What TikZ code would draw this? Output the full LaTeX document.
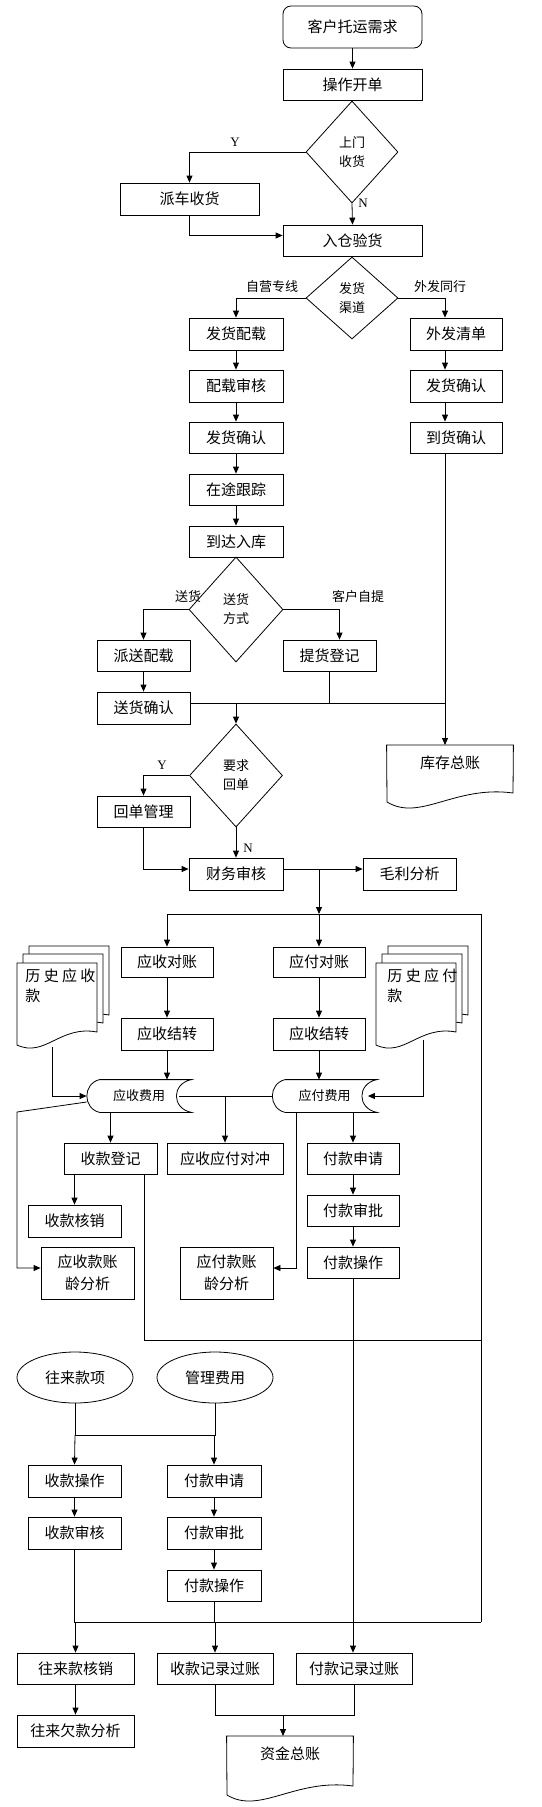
\documentclass[tikz,border=0pt]{standalone}
\usepackage{fontspec}
\newfontfamily\cjkfont{Noto Sans CJK SC}
\newfontfamily\latfont{Liberation Serif}
\usetikzlibrary{calc,arrows.meta,shapes.geometric}
\def\storeshape(#1){\draw ($(#1.north west)+(13,0)$) -- (#1.north east) .. controls +(-20,4) and +(-20,-4) .. (#1.south east) -- ($(#1.south west)+(13,0)$) .. controls +(-17,-4) and +(-17,4) .. ($(#1.north west)+(13,0)$);}
\tikzset{
	proc/.style={draw, rectangle, minimum width=94pt, minimum height=32pt, inner sep=0pt, font=\cjkfont\fontsize{15}{18}\selectfont},
	txt/.style={proc, draw=none},
	dec/.style={draw, diamond, minimum width=92pt, minimum height=102pt, inner sep=0pt, align=center, font=\cjkfont\fontsize{13}{19}\selectfont},
	oval/.style={draw, ellipse, minimum width=116pt, minimum height=51pt, inner sep=0pt, font=\cjkfont\fontsize{15}{18}\selectfont},
	lbl/.style={inner sep=0pt, font=\cjkfont\fontsize{13}{15}\selectfont},
	yn/.style={inner sep=0pt, font=\latfont\fontsize{13}{15}\selectfont},
	arr/.style={-{Triangle[length=7pt,width=6pt]}}
}

\begin{document}
\begin{tikzpicture}[x=1pt, y=-1pt, line width=0.8pt]
			%%%%% START %%%%%
			\useasboundingbox (0,0) rectangle (541,1807);
			
			\node[proc, minimum width=139pt, minimum height=42pt, rounded corners=8pt] (khxq) at (352.5,27) {客户托运需求};
			\node[proc, minimum width=139pt, minimum height=31pt] (czkd) at (352.5,84.5) {操作开单};
			\node[dec] (smsh) at (352,152) {上门\\收货};
			\node[proc, minimum width=139pt] (pcsh) at (189.5,199) {派车收货};
			\node[proc, minimum width=139pt, minimum height=31pt] (rcyh) at (352.5,240.5) {入仓验货};
			\node[yn] (smy) at (235,142) {Y};
			\node[yn] (smn) at (363,203) {N};
			\draw[arr] (khxq) -- (czkd);
			\draw[arr] (smsh.west) -| (pcsh.north);
			\draw[arr] (smsh.south) -- (rcyh.north);
			\draw[arr] (pcsh.south) |- ([yshift=5pt]rcyh.west);
			
			\node[dec, minimum height=82pt] (fhqd) at (352,298) {发货\\渠道};
			\node[proc] (fhpz) at (236,334) {发货配载};
			\node[proc] (pzsh) at (236,386) {配载审核};
			\node[proc, minimum height=31pt] (fhqr) at (236,437.5) {发货确认};
			\node[proc, minimum height=31pt] (ztgz) at (236,489.5) {在途跟踪};
			\node[proc, minimum height=31pt] (ddrk) at (236,541.5) {到达入库};
			\node[proc, minimum width=92pt] (wfqd) at (456,334) {外发清单};
			\node[proc, minimum width=92pt] (wfqr) at (456,386) {发货确认};
			\node[proc, minimum width=92pt, minimum height=31pt] (dhqr) at (456,437.5) {到货确认};
			\node[lbl] (zyzx) at (272,287) {自营专线};
			\node[lbl] (wfth) at (440,287) {外发同行};
			\draw[arr] (fhqd.west) -| (fhpz.north);
			\draw[arr] (fhqd.east) -| ([xshift=-11pt]wfqd.north);
			\draw[arr] (fhpz) -- (pzsh);
			\draw[arr] (pzsh) -- (fhqr);
			\draw[arr] (fhqr) -- (ztgz);
			\draw[arr] (ztgz) -- (ddrk);
			\draw[arr] ([xshift=-11pt]wfqd.south) -- ([xshift=-11pt]wfqr.north);
			\draw[arr] ([xshift=-11pt]wfqr.south) -- ([xshift=-11pt]dhqr.north);
			
			\node[dec, minimum width=94pt, minimum height=105pt] (shfs) at (236,609.5) {送货\\方式};
			\node[proc, minimum width=93pt, minimum height=31pt] (pspz) at (143.5,655.5) {派送配载};
			\node[proc, minimum width=93pt] (shqr) at (143.5,708) {送货确认};
			\node[proc, minimum width=93pt, minimum height=31pt] (thdj) at (329.5,655.5) {提货登记};
			\node[lbl] (shlb) at (188,597) {送货};
			\node[lbl] (khzt) at (358,597) {客户自提};
			\draw[arr] (shfs.west) -| (pspz.north);
			\draw[arr] (shfs.east) -| ([xshift=10pt]thdj.north);
			\draw[arr] (pspz) -- (shqr);
			\coordinate (kcx) at (445,703);
			\draw ([yshift=5pt]shqr.east) -- (kcx);
			\draw (thdj.south) -- (thdj.south |- kcx);
			
			\node[txt, minimum width=126pt, minimum height=34pt, anchor=north] (kczz) at (450,745) {库存总账};
			\draw (kczz.north west) -- (kczz.north east) -- (513,793) .. controls (455,785) and (420,822) .. (387,802) -- cycle;
			\draw[arr] ([xshift=-11pt]dhqr.south) -- (kcx |- kczz.north);
			
			\node[dec, minimum width=93pt, minimum height=103pt] (yqhd) at (236,775.5) {要求\\回单};
			\node[proc, minimum width=93pt, minimum height=31pt] (hdgl) at (143.5,811.5) {回单管理};
			\node[proc] (cwsh) at (236,874) {财务审核};
			\node[proc, minimum width=93pt] (mlfx) at (409.5,874) {毛利分析};
			\node[yn] (hdy) at (162,765) {Y};
			\node[yn] (hdn) at (248,848) {N};
			\draw[arr] (yqhd.north |- kcx) -- (yqhd.north);
			\draw[arr] (yqhd.west) -| (hdgl.north);
			\draw[arr] (yqhd.south) -- (cwsh.north);
			\draw[arr] (hdgl.south) |- ([yshift=5pt]cwsh.west);
			\draw[arr] ([yshift=5pt]cwsh.east) -- ([yshift=5pt]mlfx.west);
			
			\node[proc, minimum width=92pt, minimum height=30pt] (ysdz) at (167,962) {应收对账};
			\node[proc, minimum width=92pt, minimum height=30pt] (yfdz) at (319,962) {应付对账};
			\node[proc, minimum width=92pt] (ysjz) at (167,1034) {应收结转};
			\node[proc, minimum width=92pt] (yfjz) at (319,1034) {应收结转};
			\coordinate (fork) at (319,914);
			\coordinate (rbus) at (481,914);
			\coordinate (lbus) at (481,1622);
			\draw[arr] ([yshift=5pt]cwsh.east -| fork) -- (fork);
			\draw (ysdz.north |- fork) -- (rbus) -- (lbus);
			\draw[arr] (ysdz.north |- fork) -- (ysdz.north);
			\draw[arr] (fork) -- (yfdz.north);
			\draw[arr] (ysdz) -- (ysjz);
			\draw[arr] (yfdz) -- (yfjz);
			
			% history documents
			\foreach \bx in {0,359} {
				\foreach \dx/\dy in {12/17, 6/9, 0/0} {
					\draw[fill=white] (17+\bx+\dx,963-\dy) -- (97+\bx+\dx,963-\dy) -- (97+\bx+\dx,1032-\dy) .. controls (60+\bx+\dx,1025-\dy) and (45+\bx+\dx,1058-\dy) .. (17+\bx+\dx,1045-\dy) -- cycle;
				}
			}
			\node[lbl, font=\cjkfont\fontsize{15}{20}\selectfont, anchor=north west, align=left] (lsys) at (25,968) {历 史 应 收\\款};
			\node[lbl, font=\cjkfont\fontsize{15}{20}\selectfont, anchor=north west, align=left] (lsyf) at (387,968) {历 史 应 付\\款};
			
			\node[txt, minimum width=104pt, font=\cjkfont\fontsize{13}{15}\selectfont] (ysfy) at (139,1096) {应收费用};
			\storeshape(ysfy)
			\node[txt, minimum width=104pt, font=\cjkfont\fontsize{13}{15}\selectfont] (yffy) at (324.5,1096) {应付费用};
			\storeshape(yffy)
			\coordinate (lsysb) at (52,1047);
			\coordinate (lsyfb) at (423,1040);
			\draw[arr] (lsysb) |- (ysfy.west);
			\draw[arr] (lsyfb) |- ([xshift=-9pt]yffy.east);
			\draw[arr] (ysjz.south) -- (ysjz.south |- ysfy.north);
			\draw[arr] (yfjz.south) -- (yfjz.south |- yffy.north);
			
			\node[proc, minimum width=93pt, minimum height=31pt] (skdj) at (110.5,1158.5) {收款登记};
			\node[proc, minimum width=116pt, minimum height=31pt] (ysdc) at (225,1158.5) {应收应付对冲};
			\node[proc, minimum width=92pt, minimum height=31pt] (fksq) at (353,1158.5) {付款申请};
			\node[proc, minimum width=92pt, minimum height=31pt] (fksp) at (353,1210.5) {付款审批};
			\node[proc, minimum width=92pt, minimum height=31pt] (fkcz) at (353,1262.5) {付款操作};
			\node[proc, minimum width=93pt] (skhx) at (74.5,1221) {收款核销};
			\node[proc, minimum width=93pt, minimum height=52pt, align=center, font=\cjkfont\fontsize{15}{22}\selectfont] (yszl) at (87.5,1273) {应收款账\\龄分析};
			\node[proc, minimum width=93pt, minimum height=52pt, align=center, font=\cjkfont\fontsize{15}{22}\selectfont] (yfzl) at (226.5,1273) {应付款账\\龄分析};
			\draw ([xshift=-12pt]ysfy.east) -- (yffy.west);
			\draw[arr] (ysdc.north |- ysfy.east) -- (ysdc.north);
			\draw[arr] (skdj.north |- ysfy.south) -- (skdj.north);
			\draw[arr] (fksq.north |- yffy.south) -- (fksq.north);
			\coordinate (ysl) at (17,1112);
			\draw[arr] ([yshift=-6pt]ysfy.west) -- (ysl) |- ([yshift=5pt]yszl.west);
			\draw[arr] ([xshift=-28pt]yffy.south) |- ([yshift=5pt]yfzl.east);
			\draw[arr] (skhx.north |- skdj.south) -- (skhx.north);
			\coordinate (mbus) at (481,1340);
			\draw ([xshift=33.5pt]skdj.south) |- (mbus);
			\draw[arr] (fksq) -- (fksp);
			\draw[arr] (fksp) -- (fkcz);
			
			\node[oval] (wlkx) at (75,1377.5) {往来款项};
			\node[oval] (glfy) at (215,1377.5) {管理费用};
			\node[proc, minimum width=93pt] (skcz) at (74.5,1481) {收款操作};
			\node[proc] (fksq2) at (214,1481) {付款申请};
			\node[proc, minimum width=93pt] (sksh) at (74.5,1533) {收款审核};
			\node[proc] (fksp2) at (214,1533) {付款审批};
			\node[proc, minimum height=31pt] (fkcz2) at (214,1585.5) {付款操作};
			\coordinate (split) at (75,1435);
			\draw (wlkx.south) -- (split) -| (glfy.south);
			\draw[arr] (split) -- (skcz.north);
			\draw[arr] (split -| fksq2.north) -- (fksq2.north);
			\draw[arr] (skcz) -- (sksh);
			\draw[arr] (fksq2) -- (fksp2);
			\draw[arr] (fksp2) -- (fkcz2);
			
			\node[proc, minimum width=117pt, minimum height=31pt] (wlhx) at (75.5,1668.5) {往来款核销};
			\node[proc, minimum width=116pt, minimum height=31pt] (skjl) at (215,1668.5) {收款记录过账};
			\node[proc, minimum width=116pt, minimum height=31pt] (fkjl) at (354,1668.5) {付款记录过账};
			\node[proc, minimum width=117pt] (wlqk) at (75.5,1731) {往来欠款分析};
			\draw (sksh.south) -- (sksh.south |- lbus) -- (lbus);
			\draw (fkcz2.south) -- (fkcz2.south |- lbus);
			\draw[arr] (wlhx.north |- lbus) -- (wlhx.north);
			\draw[arr] (skjl.north |- lbus) -- (skjl.north);
			\draw[arr] (fkcz.south) -- (fkcz.south |- fkjl.north);
			\draw[arr] (wlhx) -- (wlqk);
			
			\coordinate (zjin) at (283,1715);
			\draw (skjl.south) |- (zjin) -| (fkjl.south);
			\node[txt, minimum width=126pt, minimum height=34pt, anchor=north] (zjzz) at (290,1736) {资金总账};
			\draw (zjzz.north west) -- (zjzz.north east) -- (353,1786) .. controls (295,1778) and (260,1815) .. (227,1795) -- cycle;
			\draw[arr] (zjin) -- (zjin |- zjzz.north);
			
			%%%%% END %%%%%
\end{tikzpicture}
\end{document}
